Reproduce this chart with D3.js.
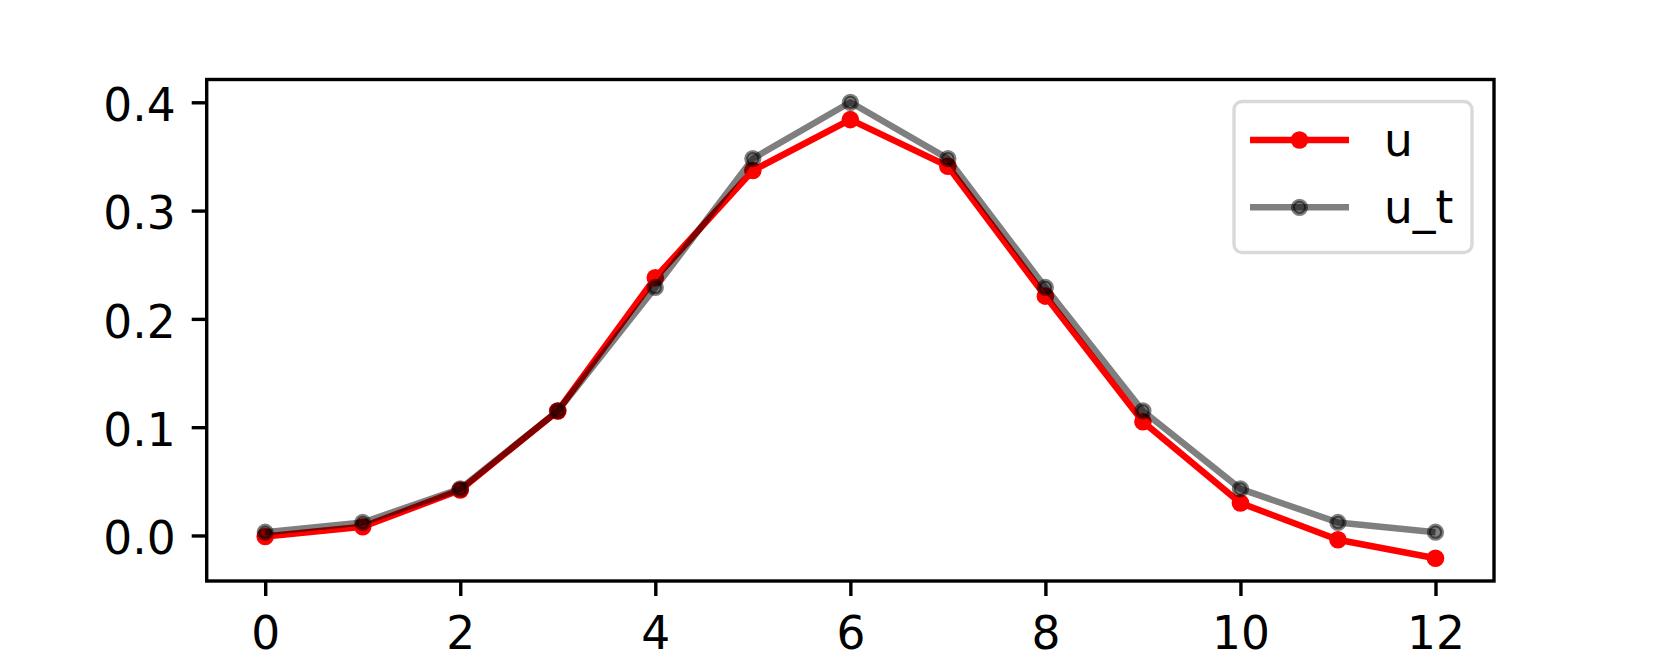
<!DOCTYPE html>
<html>
<head>
<meta charset="utf-8">
<script src="https://cdn.jsdelivr.net/npm/d3@7"></script>
<style>
  body { margin: 0; background: #fff; }
  svg text { font-family: "DejaVu Sans", sans-serif; }
</style>
</head>
<body>
<div id="chart"></div>
<script>
// sample index and both series
var xs = [0, 1, 2, 3, 4, 5, 6, 7, 8, 9, 10, 11, 12];
var u = [-0.001, 0.008, 0.042, 0.115, 0.238, 0.337, 0.384, 0.341, 0.221, 0.105, 0.030, -0.004, -0.021];
var uT = [0.003, 0.012, 0.043, 0.115, 0.229, 0.348, 0.400, 0.348, 0.229, 0.115, 0.043, 0.012, 0.003];
var xTicks = [0, 2, 4, 6, 8, 10, 12];
var yTicks = [0.0, 0.1, 0.2, 0.3, 0.4];
var seriesNames = ["u", "u_t"];

var width = 1661, height = 664;
// plot box (note: "top" is reserved on window, so use other names)
var plotL = 206.7, plotR = 1494, plotT = 79.5, plotB = 581;
var fontSize = 45.5, axisW = 3.4, tickLen = 15;

var svg = d3.select("#chart").append("svg")
  .attr("width", width)
  .attr("height", height);

var x = d3.scaleLinear().domain([-0.6, 12.6]).range([plotL, plotR]);
var lo = d3.min(u.concat(uT)), hi = d3.max(u.concat(uT));
var pad = (hi - lo) * 0.05;
var y = d3.scaleLinear().domain([lo - pad, hi + pad]).range([plotB, plotT]);

// axes
var xAxis = svg.append("g")
  .attr("transform", "translate(0," + plotB + ")")
  .call(d3.axisBottom(x).tickValues(xTicks).tickFormat(d3.format("d"))
    .tickSize(tickLen).tickPadding(tickLen));
var yAxis = svg.append("g")
  .attr("transform", "translate(" + plotL + ",0)")
  .call(d3.axisLeft(y).tickValues(yTicks).tickFormat(d3.format(".1f"))
    .tickSize(tickLen).tickPadding(tickLen + 1));

[xAxis, yAxis].forEach(function(a) {
  a.select(".domain").remove();
  a.selectAll("line").attr("stroke", "#000").attr("stroke-width", axisW);
  a.selectAll("text").attr("font-size", fontSize).attr("fill", "#000")
    .style("font-family", "DejaVu Sans");
});
xAxis.selectAll("text").attr("dy", "0.835em");
yAxis.selectAll("text").attr("dy", "0.4em");

var line = d3.line()
  .x(function(d, i) { return x(xs[i]); })
  .y(function(d) { return y(d); });

// u (red)
svg.append("path")
  .datum(u)
  .attr("d", line)
  .attr("fill", "none")
  .attr("stroke", "red")
  .attr("stroke-width", 6.5)
  .attr("stroke-linejoin", "round");
svg.append("g").selectAll("circle")
  .data(u)
  .enter()
  .append("circle")
  .attr("cx", function(d, i) { return x(xs[i]); })
  .attr("cy", function(d) { return y(d); })
  .attr("r", 8.8)
  .attr("fill", "red");

// u_t (black, half transparent)
svg.append("path")
  .datum(uT)
  .attr("d", line)
  .attr("fill", "none")
  .attr("stroke", "#000")
  .attr("stroke-opacity", 0.5)
  .attr("stroke-width", 6.5)
  .attr("stroke-linejoin", "round");
svg.append("g").selectAll("circle")
  .data(uT)
  .enter()
  .append("circle")
  .attr("cx", function(d, i) { return x(xs[i]); })
  .attr("cy", function(d) { return y(d); })
  .attr("r", 6.6)
  .attr("fill", "#000")
  .attr("fill-opacity", 0.5)
  .attr("stroke", "#000")
  .attr("stroke-opacity", 0.5)
  .attr("stroke-width", 4);

// frame
svg.append("rect")
  .attr("x", plotL)
  .attr("y", plotT)
  .attr("width", plotR - plotL)
  .attr("height", plotB - plotT)
  .attr("fill", "none")
  .attr("stroke", "#000")
  .attr("stroke-width", axisW);

// legend
var legend = svg.append("g");
legend.append("rect")
  .attr("x", 1234)
  .attr("y", 101.5)
  .attr("width", 238)
  .attr("height", 151)
  .attr("rx", 8)
  .attr("fill", "#fff")
  .attr("fill-opacity", 0.8)
  .attr("stroke", "#d9d9d9")
  .attr("stroke-width", 3.4);

var rows = legend.selectAll("g.row")
  .data(seriesNames)
  .enter()
  .append("g")
  .attr("class", "row")
  .attr("transform", function(d, i) { return "translate(0," + (140 + i * 67.3) + ")"; });

rows.append("line")
  .attr("x1", 1250).attr("x2", 1349)
  .attr("stroke", function(d, i) { return i === 0 ? "red" : "#000"; })
  .attr("stroke-opacity", function(d, i) { return i === 0 ? 1 : 0.5; })
  .attr("stroke-width", 6.5);
rows.append("circle")
  .attr("cx", 1299.5)
  .attr("r", function(d, i) { return i === 0 ? 8.8 : 6.6; })
  .attr("fill", function(d, i) { return i === 0 ? "red" : "#000"; })
  .attr("fill-opacity", function(d, i) { return i === 0 ? 1 : 0.5; })
  .attr("stroke", "#000")
  .attr("stroke-opacity", function(d, i) { return i === 0 ? 0 : 0.5; })
  .attr("stroke-width", 4);
rows.append("text")
  .attr("x", 1384)
  .attr("y", 15.5)
  .attr("font-size", fontSize)
  .attr("fill", "#000")
  .text(function(d) { return d; });
</script>
</body>
</html>
